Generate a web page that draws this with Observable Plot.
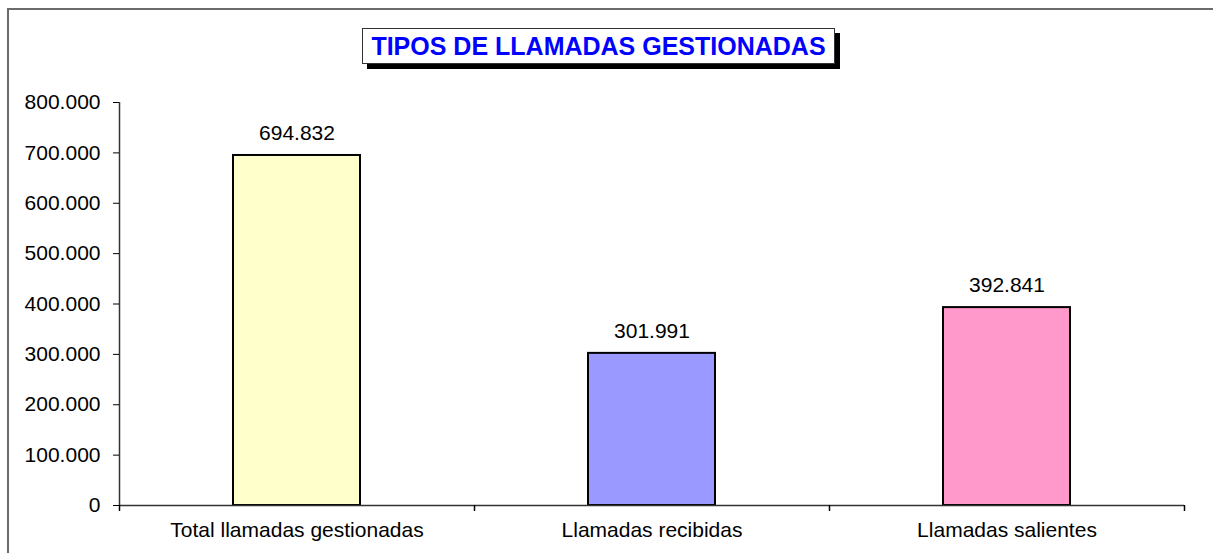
<!DOCTYPE html>
<html>
<head>
<meta charset="utf-8">
<script src="https://cdn.jsdelivr.net/npm/d3@7"></script>
<script src="https://cdn.jsdelivr.net/npm/@observablehq/plot@0.6"></script>
<style>
  html, body { margin: 0; padding: 0; background: #fff; }
  #wrap { position: relative; width: 1213px; height: 553px; overflow: hidden; font-family: "Liberation Sans", Arial, sans-serif; }
  #frame { position: absolute; left: 7px; top: 8px; width: 1300px; height: 700px; border-left: 2px solid #6b6b6b; border-top: 2px solid #6b6b6b; box-sizing: border-box; }
  #chart { position: absolute; left: 0; top: 0; }
  #title { position: absolute; left: 362px; top: 28px; width: 473px; height: 36px; box-sizing: border-box; border: 1px solid #333; background: #fff; box-shadow: 5px 5px 0 #000; color: #0000ff; font-weight: bold; font-size: 25px; line-height: 34px; text-align: center; white-space: nowrap; }
</style>
</head>
<body>
<div id="wrap">
  <div id="frame"></div>
  <div id="chart"></div>
  <div id="title">TIPOS DE LLAMADAS GESTIONADAS</div>
</div>
<script>
const categories = ["Total llamadas gestionadas", "Llamadas recibidas", "Llamadas salientes"];
const values = [694832, 301991, 392841];
const barColors = ["#ffffcc", "#9999ff", "#ff99cc"];
const yTicks = [0, 100000, 200000, 300000, 400000, 500000, 600000, 700000, 800000];

const data = categories.map((c, i) => ({category: c, value: values[i], color: barColors[i]}));
const locale = d3.formatLocale({decimal: ",", thousands: ".", grouping: [3], currency: ["", "€"]});
const fmt = locale.format(",d");

const W = 1213, H = 553, mL = 119, mR = 29, mT = 102, mB = 48;
const bw = (W - mL - mR) / categories.length;
const font = "Liberation Sans, Arial, sans-serif";
const fs = 21;

const chart = Plot.plot({
  width: W, height: H,
  marginLeft: mL, marginRight: mR, marginTop: mT, marginBottom: mB,
  style: {fontFamily: font, fontSize: fs + "px", color: "#000", background: "transparent"},
  x: {domain: categories, padding: 0, label: null},
  y: {domain: [0, 800000], label: null},
  marks: [
    Plot.barY(data, {x: "category", y: "value", fill: "color", stroke: "#000", strokeWidth: 2, insetLeft: 114, insetRight: 114}),
    Plot.text(data, {x: "category", y: "value", text: d => fmt(d.value), dy: -22, fill: "#000", fontSize: fs}),
    Plot.ruleY([0], {stroke: "#333", strokeWidth: 1.5}),
    Plot.ruleX([0], {x: () => categories[0], y1: 0, y2: 800000, dx: -bw / 2, stroke: "#333", strokeWidth: 1.5}),
    Plot.ruleX(categories, {x: d => d, y1: 0, y2: 0, dx: -bw / 2, insetBottom: -6, stroke: "#000", strokeWidth: 1.5}),
    Plot.ruleX([categories[categories.length - 1]], {x: d => d, y1: 0, y2: 0, dx: bw / 2, insetBottom: -6, stroke: "#000", strokeWidth: 1.5}),
    Plot.axisY({ticks: yTicks, tickFormat: fmt, tickSize: 6, tickPadding: 13, fontSize: fs, stroke: "#000"}),
    Plot.axisX({tickSize: 0, tickPadding: 17, fontSize: fs})
  ]
});
document.getElementById("chart").appendChild(chart);
</script>
</body>
</html>
